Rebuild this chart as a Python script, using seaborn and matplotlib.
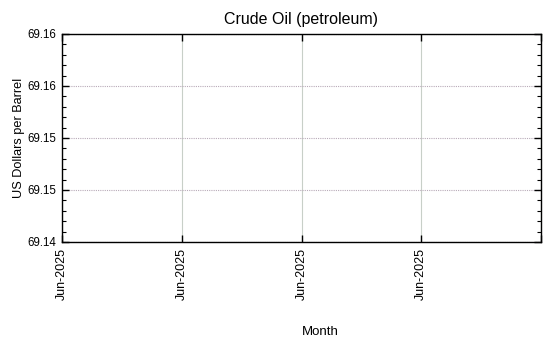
import matplotlib
matplotlib.use("Agg")
import matplotlib.pyplot as plt
import seaborn as sns
import pandas as pd
from matplotlib.ticker import MultipleLocator, AutoMinorLocator, FormatStrFormatter

months = ["Jun-2025"]
prices = [69.15]
tick_labels = ["Jun-2025", "Jun-2025", "Jun-2025", "Jun-2025"]

sns.set_theme(style="white")
plt.rcParams['font.family'] = ['Liberation Sans', 'DejaVu Sans']

df = pd.DataFrame({"Month": [0] * len(months), "Price": prices})

fig = plt.figure(figsize=(5.5, 3.5), dpi=100)
ax = fig.add_axes([62/550, 1-242/350, (541-62)/550, (242-34)/350])
sns.lineplot(data=df, x="Month", y="Price", ax=ax, color="#1f77b4")

ax.set_xlim(0, 4)
ax.set_ylim(69.14, 69.16)
ax.set_xticks([0, 1, 2, 3, 4])
ax.set_xticklabels(tick_labels + [""], rotation=90, fontsize=9)
ax.yaxis.set_major_locator(MultipleLocator(0.005))
ax.yaxis.set_major_formatter(FormatStrFormatter("%.2f"))
ax.yaxis.set_minor_locator(AutoMinorLocator(5))
for lbl in ax.get_yticklabels():
    lbl.set_fontsize(8.3)

ax.tick_params(which="both", direction="in", top=True, right=True, left=True, bottom=True, colors="black")
ax.tick_params(which="major", length=5, width=1, pad=4)
ax.tick_params(which="minor", length=3, width=0.8)
ax.tick_params(axis="x", which="minor", bottom=False, top=False)

for s in ax.spines.values():
    s.set_visible(True)
    s.set_color("black")
    s.set_linewidth(1)

ax.xaxis.grid(True, color="#c8cfc8", linestyle="-", linewidth=0.8)
ax.yaxis.grid(True, color="#b8aab8", linestyle=(0, (1, 1)), linewidth=0.8)

ax.set_title("Crude Oil (petroleum)", fontsize=11.5, color="black", pad=7)
ax.set_xlabel("Month", fontsize=9.5, color="black")
ax.set_ylabel("US Dollars per Barrel", fontsize=9.2, color="black")
ax.xaxis.set_label_coords((320 - 62) / 479, (242 - 326) / 208)
ax.yaxis.set_label_coords((25 - 62) / 479, 0.5)

fig.savefig("out.png", dpi=100)
